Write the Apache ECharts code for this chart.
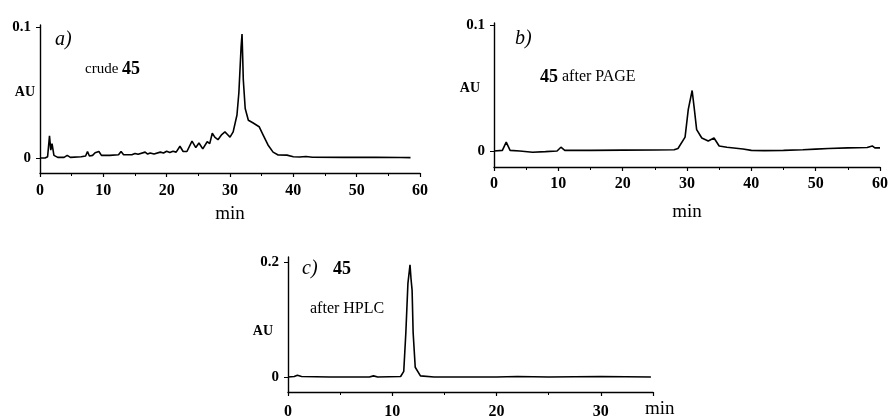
<!DOCTYPE html>
<html>
<head>
<meta charset="utf-8">
<script src="https://cdn.jsdelivr.net/npm/echarts@6/dist/echarts.min.js"></script>
<style>
  html, body { margin: 0; padding: 0; background: #fff; }
  #chart { width: 893px; height: 417px; }
</style>
</head>
<body>
<div id="chart"></div>
<script>
// retention time (min), absorbance (AU)
const crudeTrace = [
  [0, 0], [0.8, 0], [1.2, 0.001], [1.5, 0.017], [1.7, 0.006], [1.9, 0.011], [2.2, 0.002], [2.8, 0.0005],
  [3.8, 0.0005], [4.3, 0.002], [4.8, 0.0005], [6.5, 0.001], [7.2, 0.0015], [7.5, 0.005], [7.8, 0.0015],
  [8.3, 0.002], [8.7, 0.004], [9.0, 0.003], [9.3, 0.005], [9.7, 0.002], [11, 0.002], [12.4, 0.0025],
  [12.8, 0.005], [13.2, 0.0025], [14.5, 0.0025], [15, 0.0035], [15.5, 0.0028], [16.6, 0.0045], [17, 0.003],
  [17.4, 0.0038], [18, 0.003], [19, 0.0045], [19.5, 0.0038], [20, 0.0052], [20.5, 0.0042], [21, 0.0052],
  [21.5, 0.0045], [22.1, 0.009], [22.6, 0.005], [23.2, 0.005], [24, 0.013], [24.6, 0.008], [25.1, 0.0115],
  [25.7, 0.007], [26.4, 0.0125], [26.8, 0.011], [27.2, 0.019], [27.6, 0.016], [28.1, 0.014], [28.7, 0.018],
  [29.2, 0.02], [29.6, 0.018], [30, 0.016], [30.5, 0.02], [31.1, 0.033], [31.4, 0.05], [31.6, 0.07],
  [31.75, 0.085], [31.9, 0.095], [32.0, 0.078], [32.1, 0.06], [32.4, 0.038], [32.9, 0.029], [33.6, 0.027],
  [34.6, 0.024], [35.2, 0.018], [36, 0.01], [36.8, 0.0045], [37.6, 0.0023], [39, 0.0022], [40, 0.001],
  [41, 0.0008], [42, 0.0012], [43, 0.0006], [48, 0.0005], [53, 0.0005], [57, 0.0004], [58.5, 0.0003]
]
const pageTrace = [
  [0, 0], [1.3, 0.0005], [1.9, 0.007], [2.5, 0.0005], [4, 0], [6, -0.001], [8, -0.0005], [9.8, 0],
  [10.4, 0.003], [11, 0.0005], [15, 0.0005], [20, 0.0007], [25, 0.0008], [28, 0.001], [28.6, 0.002],
  [29.7, 0.011], [30.2, 0.033], [30.8, 0.048], [31.1, 0.035], [31.5, 0.017], [32.3, 0.0103], [33.3, 0.008],
  [34.2, 0.0103], [35, 0.004], [36.2, 0.003], [38.7, 0.0016], [40, 0.0005], [42, 0.0003], [45, 0.0005],
  [48, 0.001], [50, 0.0015], [52, 0.002], [55, 0.0025], [58, 0.0028], [58.8, 0.004], [59.2, 0.0025], [60, 0.0025]
]
const hplcTrace = [
  [0, 0], [0.6, 0.001], [0.9, 0.003], [1.3, 0.001], [4, 0], [7.8, 0], [8.2, 0.002], [8.6, 0],
  [10.8, 0.001], [11.1, 0.01], [11.3, 0.077], [11.5, 0.163], [11.7, 0.195], [11.8, 0.17], [11.9, 0.151],
  [12.0, 0.077], [12.2, 0.017], [12.7, 0.002], [14, 0], [20, 0], [22, 0.001], [25, 0], [30, 0.001], [34.8, 0]
]
const ticksAB = [0, 0.1]
const ticksC = [0, 0.2]

const serif = '"Liberation Serif", "Times New Roman", serif'
const black = '#000'

function xAxisOf (gridIndex, max, margin, nameGap) {
  return {
    gridIndex,
    type: 'value',
    min: 0,
    max,
    interval: 10,
    axisLine: { onZero: false, lineStyle: { color: black, width: 1.4 } },
    axisTick: { length: 4, lineStyle: { color: black, width: 1.2 } },
    minorTick: { show: true, splitNumber: 2, length: 3, lineStyle: { color: black } },
    splitLine: { show: false },
    axisLabel: {
      color: black, fontFamily: serif, fontWeight: 'bold', fontSize: 16, margin, showMaxLabel: max % 10 === 0
    },
    name: 'min',
    nameLocation: 'middle',
    nameGap,
    nameMoveOverlap: false,
    nameTextStyle: { color: black, fontFamily: serif, fontSize: 19 }
  }
}

function yAxisOf (gridIndex, min, max, ticks, nameGap, nameAlign) {
  return {
    gridIndex,
    type: 'value',
    min,
    max,
    axisLine: { show: true, onZero: false, lineStyle: { color: black, width: 1.4 } },
    axisTick: { show: true, customValues: ticks, length: 4, lineStyle: { color: black } },
    splitLine: { show: false },
    axisLabel: {
      customValues: ticks, color: black, fontFamily: serif, fontWeight: 'bold', fontSize: 15, margin: 9
    },
    name: 'AU',
    nameLocation: 'middle',
    nameRotate: 0,
    nameGap,
    nameMoveOverlap: false,
    nameTextStyle: { color: black, fontFamily: serif, fontWeight: 'bold', fontSize: 14, verticalAlign: nameAlign }
  }
}

function lineOf (i, data) {
  return {
    type: 'line',
    xAxisIndex: i,
    yAxisIndex: i,
    data,
    showSymbol: false,
    lineStyle: { color: black, width: 1.6 }
  }
}

const chart = echarts.init(document.getElementById('chart'))
chart.setOption({
  animation: false,
  backgroundColor: '#fff',
  grid: [
    { left: 40, top: 25, width: 380, height: 148, outerBoundsMode: 'none' },
    { left: 494, top: 23, width: 386, height: 144, outerBoundsMode: 'none' },
    { left: 288, top: 257, width: 365, height: 135, outerBoundsMode: 'none' }
  ],
  xAxis: [
    xAxisOf(0, 60, 10, 32),
    xAxisOf(1, 60, 9, 36),
    Object.assign(xAxisOf(2, 35, 12, -8), {
      nameLocation: 'end',
      nameTextStyle: { color: black, fontFamily: serif, fontSize: 19, verticalAlign: 'top', padding: [8, 0, 0, 0] }
    })
  ],
  yAxis: [
    yAxisOf(0, -0.0115, 0.102, ticksAB, 5, 'bottom'),
    yAxisOf(1, -0.0127, 0.1016, ticksAB, 14, 'bottom'),
    yAxisOf(2, -0.026, 0.2087, ticksC, 15, 'top')
  ],
  series: [
    lineOf(0, crudeTrace),
    lineOf(1, pageTrace),
    lineOf(2, hplcTrace)
  ],
  graphic: [
    { type: 'text', left: 55, top: 30, style: { text: 'a)', font: 'italic 20px ' + serif, fill: black } },
    {
      type: 'text', left: 85, top: 60,
      style: {
        text: '{r|crude }{b|45}',
        rich: {
          r: { fontFamily: serif, fontSize: 15, fill: black },
          b: { fontFamily: serif, fontSize: 18, fontWeight: 'bold', fill: black }
        }
      }
    },
    { type: 'text', left: 515, top: 29, style: { text: 'b)', font: 'italic 20px ' + serif, fill: black } },
    {
      type: 'text', left: 540, top: 68,
      style: {
        text: '{b|45}{r| after PAGE}',
        rich: {
          r: { fontFamily: serif, fontSize: 16, fill: black },
          b: { fontFamily: serif, fontSize: 18, fontWeight: 'bold', fill: black }
        }
      }
    },
    { type: 'text', left: 302, top: 259, style: { text: 'c)', font: 'italic 20px ' + serif, fill: black } },
    { type: 'text', left: 333, top: 260, style: { text: '45', font: 'bold 18px ' + serif, fill: black } },
    { type: 'text', left: 310, top: 301, style: { text: 'after HPLC', font: '16px ' + serif, fill: black } }
  ]
})
</script>
</body>
</html>
